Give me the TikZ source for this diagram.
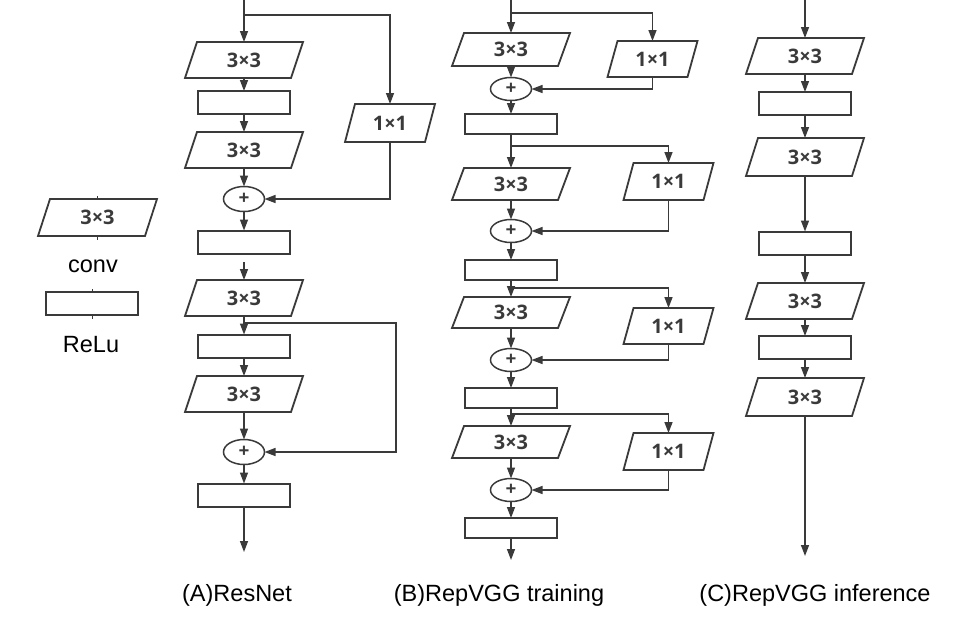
\documentclass[tikz,border=0pt]{standalone}
\usepackage{fontspec}
\setmainfont{Liberation Sans}
\newfontfamily\boxfont{Open Sans}
\usetikzlibrary{arrows.meta,shapes.geometric}
\definecolor{ink}{HTML}{3A3A3A}
\tikzset{
  convlbl/.style={inner sep=0pt, outer sep=0pt, rectangle, font=\boxfont\bfseries\fontsize{20}{22}\selectfont, text=ink},
  convline/.style={draw=ink, line width=1.8pt, line join=miter},
  relubox/.style={draw=ink, line width=2pt, rectangle, inner sep=0pt, outer sep=0pt, minimum width=92pt, minimum height=23pt},
  plusnode/.style={draw=ink, line width=1.5pt, ellipse, inner sep=0pt, outer sep=0pt, minimum width=41pt, minimum height=25pt, font=\boxfont\bfseries\fontsize{19}{19}\selectfont, text=ink},
  arr/.style={draw=ink, line width=1.4pt, -{Triangle[length=11pt,width=8pt]}},
  plain/.style={draw=ink, line width=1.4pt},
  tick/.style={draw=ink, line width=1pt},
  caption/.style={font=\fontsize{23.5}{26}\selectfont, text=black, inner sep=0pt}
}
% name, x, y, width, height, slant-half, text
\newcommand\convbox[7]{%
  \node[convlbl, minimum width=#4pt, minimum height=#5pt] (#1) at (#2,#3) {#7};
  \draw[convline] ([xshift=#6pt]#1.north west) -- ([xshift=#6pt]#1.north east)
     -- ([xshift=-#6pt]#1.south east) -- ([xshift=-#6pt]#1.south west) -- cycle;
}
\begin{document}
\begin{tikzpicture}[x=1pt,y=-1pt]
\useasboundingbox (0,0) rectangle (966,630);

% ---------------- Legend ----------------
\convbox{Lconv}{97.5}{217.5}{107}{37}{6}{3×3}
\node[caption] (Lconvtxt) at (93,266) {conv};
\node[relubox] (Lrelu) at (92,303.5) {};
\node[caption] (Lrelutxt) at (91,345) {ReLu};
\draw[tick] ([yshift=3pt]Lconv.north) -- (Lconv.north);
\draw[tick] (Lconv.south) -- ([yshift=-4pt]Lconv.south);
\draw[tick] ([yshift=3pt]Lrelu.north) -- (Lrelu.north);
\draw[tick] (Lrelu.south) -- ([yshift=-4pt]Lrelu.south);

% ---------------- (A) ResNet ----------------
\coordinate (Atop) at (244,0);
\coordinate (Abr) at (244,15);
\convbox{A1}{244}{60}{106}{36}{6}{3×3}
\node[relubox] (AR1) at (244,102.5) {};
\convbox{A2}{244}{150}{106}{36}{6}{3×3}
\node[plusnode] (Ap1) at (244,199) {+};
\node[relubox] (AR2) at (244,242) {};
\coordinate (Ag) at (244,262);
\convbox{A3}{244}{298}{106}{36}{6}{3×3}
\coordinate (Abr2) at (244,323);
\node[relubox] (AR3) at (244,346) {};
\convbox{A4}{244}{394}{106}{36}{6}{3×3}
\node[plusnode] (Ap2) at (244,452) {+};
\node[relubox] (AR4) at (244,495) {};
\coordinate (Aend) at (244,552);
\convbox{Ac1}{390}{123}{80}{38}{5}{1×1}
\coordinate (Askip) at (396,323);

\draw[arr] (Atop) -- (A1);
\draw[arr] (Abr) -| (Ac1.north);
\draw[arr] (A1) -- (AR1);
\draw[arr] (AR1) -- (A2);
\draw[arr] (A2) -- (Ap1);
\draw[arr] (Ac1.south) |- (Ap1.east);
\draw[arr] (Ap1) -- (AR2);
\draw[arr] (Ag) -- (A3);
\draw[arr] (A3) -- (AR3);
\draw[arr] (AR3) -- (A4);
\draw[arr] (A4) -- (Ap2);
\draw[arr] (Abr2) -- (Askip) |- (Ap2.east);
\draw[arr] (Ap2) -- (AR4);
\draw[arr] (AR4) -- (Aend);

\node[caption] (Acap) at (237,595) {(A)ResNet};

% ---------------- (B) RepVGG training ----------------
\coordinate (Btop) at (511,0);
\coordinate (Bb1) at (511,13);
\convbox{B1}{511}{49.5}{106}{33}{6}{3×3}
\convbox{Bc1}{652.5}{59}{80}{36}{5}{1×1}
\node[plusnode, minimum height=23pt] (Bp1) at (511,89) {+};
\node[relubox, minimum height=20pt] (BR1) at (511,124) {};
\coordinate (Bb2) at (511,146);
\convbox{B2}{511}{184}{106}{32}{6}{3×3}
\convbox{Bc2}{668.5}{181.5}{80}{37}{5}{1×1}
\node[plusnode, minimum height=23pt] (Bp2) at (511,231) {+};
\node[relubox, minimum height=20pt] (BR2) at (511,270) {};
\coordinate (Bb3) at (511,288);
\convbox{B3}{511}{312.5}{106}{31}{6}{3×3}
\convbox{Bc3}{668.5}{326}{80}{36}{5}{1×1}
\node[plusnode, minimum height=23pt] (Bp3) at (511,360) {+};
\node[relubox, minimum height=20pt] (BR3) at (511,398) {};
\coordinate (Bb4) at (511,414);
\convbox{B4}{511}{442}{106}{32}{6}{3×3}
\convbox{Bc4}{668.5}{451.5}{80}{37}{5}{1×1}
\node[plusnode, minimum height=23pt] (Bp4) at (511,490) {+};
\node[relubox, minimum height=20pt] (BR4) at (511,528) {};
\coordinate (Bend) at (511,560);

\draw[arr] (Btop) -- (B1);
\draw[arr] (Bb1) -| (Bc1.north);
\draw[arr] (B1) -- (Bp1);
\draw[arr] (Bc1.south) |- (Bp1.east);
\draw[arr] (Bp1) -- (BR1);

\draw[arr] (BR1) -- (B2);
\draw[arr] (Bb2) -| (Bc2.north);
\draw[arr] (B2) -- (Bp2);
\draw[arr] (Bc2.south) |- (Bp2.east);
\draw[arr] (Bp2) -- (BR2);

\draw[arr] (BR2) -- (B3);
\draw[arr] (Bb3) -| (Bc3.north);
\draw[arr] (B3) -- (Bp3);
\draw[arr] (Bc3.south) |- (Bp3.east);
\draw[arr] (Bp3) -- (BR3);

\draw[arr] (BR3) -- (B4);
\draw[arr] (Bb4) -| (Bc4.north);
\draw[arr] (B4) -- (Bp4);
\draw[arr] (Bc4.south) |- (Bp4.east);
\draw[arr] (Bp4) -- (BR4);
\draw[arr] (BR4) -- (Bend);

\node[caption] (Bcap) at (499,595) {(B)RepVGG training};

% ---------------- (C) RepVGG inference ----------------
\coordinate (Ctop) at (805,0);
\convbox{C1}{805}{56}{106}{36}{6}{3×3}
\node[relubox] (CR1) at (805,103.5) {};
\convbox{C2}{805}{157}{106}{38}{6}{3×3}
\node[relubox] (CR2) at (805,243) {};
\convbox{C3}{805}{301}{106}{36}{6}{3×3}
\node[relubox] (CR3) at (805,347.5) {};
\convbox{C4}{805}{397}{106}{38}{6}{3×3}
\coordinate (Cend) at (805,556);

\draw[arr] (Ctop) -- (C1);
\draw[arr] (C1) -- (CR1);
\draw[arr] (CR1) -- (C2);
\draw[arr] (C2) -- (CR2);
\draw[arr] (CR2) -- (C3);
\draw[arr] (C3) -- (CR3);
\draw[arr] (CR3) -- (C4);
\draw[arr] (C4) -- (Cend);

\node[caption] (Ccap) at (815,595) {(C)RepVGG inference};
\end{tikzpicture}
\end{document}
